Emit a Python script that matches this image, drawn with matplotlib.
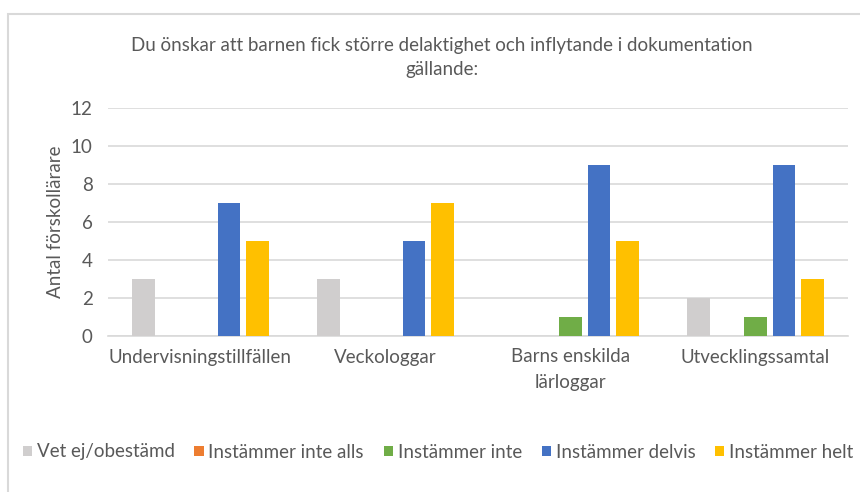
import matplotlib
matplotlib.use('Agg')
import matplotlib.pyplot as plt
import numpy as np
from matplotlib.patches import Rectangle

plt.rcParams['font.family'] = ['Lato', 'DejaVu Sans']

# data
categories = ['Undervisningstillfällen', 'Veckologgar', 'Barns enskilda\nlärloggar', 'Utvecklingssamtal']
series_names = ['Vet ej/obestämd', 'Instämmer inte alls', 'Instämmer inte', 'Instämmer delvis', 'Instämmer helt']
vet_ej = [3, 3, 0, 2]
inte_alls = [0, 0, 0, 0]
inte = [0, 0, 1, 1]
delvis = [7, 5, 9, 9]
helt = [5, 7, 5, 3]
colors = ['#D0CECE', '#ED7D31', '#70AD47', '#4472C4', '#FFC000']

txt = '#595959'
grid = '#D9D9D9'
fs = 13.5

fig = plt.figure(figsize=(8.6, 4.92), dpi=100)
ax = fig.add_axes([108/860, 1-336/492, 740/860, 228/492])

x = np.arange(len(categories))
slot = 0.154
bw = 0.124
for i, (name, vals) in enumerate(zip(series_names, [vet_ej, inte_alls, inte, delvis, helt])):
    ax.bar(x + (i-2)*slot, vals, bw, color=colors[i], label=name, zorder=3)

ax.set_xlim(-0.5, 3.5)
ax.set_ylim(0, 12)
ax.set_yticks(range(0, 13, 2))
ax.grid(axis='y', color=grid, lw=1.2, zorder=0)
for s in ['top', 'right', 'left']:
    ax.spines[s].set_visible(False)
ax.spines['bottom'].set_color(grid)
ax.spines['bottom'].set_linewidth(1.2)
ax.tick_params(axis='both', length=0, colors=txt, labelsize=fs)
ax.tick_params(axis='y', pad=11)
ax.tick_params(axis='x', pad=9)
ax.set_xticks(x)
ax.set_xticklabels(categories, fontsize=fs, color=txt, linespacing=1.6)
ax.set_ylabel('Antal förskollärare', fontsize=fs, color=txt, labelpad=5)

fig.text(442/860, 1-45/492, 'Du önskar att barnen fick större delaktighet och inflytande i dokumentation',
         ha='center', va='center', fontsize=fs, color=txt)
fig.text(442/860, 1-70/492, 'gällande:', ha='center', va='center', fontsize=fs, color=txt)

fig.patches.append(Rectangle((8/860, -0.1), 1.2, 1-14/492+0.1, transform=fig.transFigure,
                             fill=False, edgecolor=grid, lw=1.5))

fig.legend(loc='center', bbox_to_anchor=(438/860, 1-452/492), ncol=5, frameon=False,
           fontsize=fs, handlelength=0.5, handleheight=0.5, handletextpad=0.25,
           columnspacing=1.05, labelcolor=txt)

fig.savefig('out.png', dpi=100)
